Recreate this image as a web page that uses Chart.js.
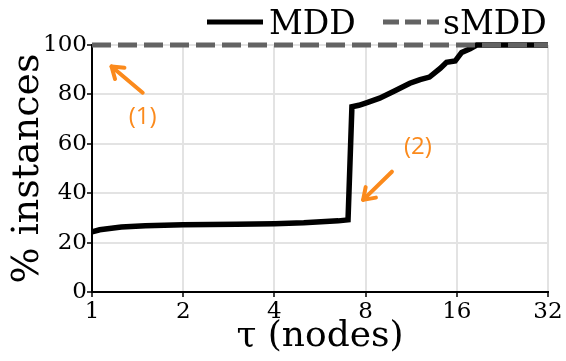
<!DOCTYPE html>
<html>
<head>
<meta charset="utf-8">
<script src="https://cdn.jsdelivr.net/npm/chart.js@4.4.1/dist/chart.umd.min.js"></script>
<style>
  html, body { margin: 0; padding: 0; background: #fff; }
</style>
</head>
<body>
<canvas id="cdfChart" width="566" height="361"></canvas>
<script>
// series names and axis ticks
const seriesNames = ['MDD', 'sMDD'];
const xTicks = [1, 2, 4, 8, 16, 32];
const yTicks = [0, 20, 40, 60, 80, 100];

// MDD: % of instances solved for a given tau
const mddX = [1, 1.06, 1.25, 1.5, 2, 3, 4, 5, 6.5, 7.0, 7.21, 7.6, 8, 8.9, 10, 11.2, 12.1, 13, 14.1, 14.8, 15.8, 16.6, 17.7, 18.6, 32];
const mddY = [24.3, 25.2, 26.3, 26.8, 27.2, 27.4, 27.6, 28, 28.8, 29.2, 75, 75.6, 76.5, 78.5, 81.5, 84.5, 86, 87, 90.5, 93, 93.5, 97, 98.5, 100, 100];

// sMDD: all instances from the start
const smddX = [1, 32];
const smddY = [100, 100];

const orange = '#fb8a1c';
const serif = '"DejaVu Serif", serif';

const toPoints = (xs, ys) => xs.map((x, i) => ({ x: x, y: ys[i] }));

// small numbered arrows, in data coordinates
const notes = [
  { label: '(1)', from: [1.47, 80.7], to: [1.16, 91.3], at: [1.47, 70.6] },
  { label: '(2)', from: [9.77, 48.7], to: [7.85, 37.3], at: [11.9, 58.8] }
];

const notesPlugin = {
  id: 'notes',
  afterDatasetsDraw(chart) {
    const { ctx, scales } = chart;
    ctx.save();
    ctx.strokeStyle = orange;
    ctx.fillStyle = orange;
    ctx.lineWidth = 4;
    ctx.lineCap = 'round';
    ctx.lineJoin = 'round';
    notes.forEach(n => {
      const x0 = scales.x.getPixelForValue(n.from[0]);
      const y0 = scales.y.getPixelForValue(n.from[1]);
      const x1 = scales.x.getPixelForValue(n.to[0]);
      const y1 = scales.y.getPixelForValue(n.to[1]);
      const ang = Math.atan2(y1 - y0, x1 - x0);
      ctx.beginPath();
      ctx.moveTo(x0, y0);
      ctx.lineTo(x1, y1);
      ctx.stroke();
      ctx.beginPath();
      ctx.moveTo(x1 - 13 * Math.cos(ang - 0.6), y1 - 13 * Math.sin(ang - 0.6));
      ctx.lineTo(x1, y1);
      ctx.lineTo(x1 - 13 * Math.cos(ang + 0.6), y1 - 13 * Math.sin(ang + 0.6));
      ctx.stroke();
      ctx.font = '24px "Open Sans", sans-serif';
      ctx.textAlign = 'center';
      ctx.textBaseline = 'middle';
      ctx.fillText(n.label, scales.x.getPixelForValue(n.at[0]), scales.y.getPixelForValue(n.at[1]));
    });
    ctx.restore();
  }
};

// legend above the plot, drawn by hand so it can sit next to the "100" label
const legendPlugin = {
  id: 'topLegend',
  afterDraw(chart) {
    const ctx = chart.ctx;
    const sets = chart.data.datasets;
    const items = [
      { lineX: 207, textX: 269 },
      { lineX: 383, textX: 443 }
    ];
    ctx.save();
    ctx.font = '33px ' + serif;
    ctx.textBaseline = 'alphabetic';
    ctx.fillStyle = '#000';
    items.forEach((it, i) => {
      const ds = sets[i];
      ctx.strokeStyle = ds.borderColor;
      ctx.lineWidth = 5;
      ctx.setLineDash(ds.borderDash ? [16, 6] : []);
      ctx.beginPath();
      ctx.moveTo(it.lineX, 22);
      ctx.lineTo(it.lineX + 56, 22);
      ctx.stroke();
      ctx.fillText(ds.label, it.textX, 34);
    });
    ctx.restore();
  }
};

const ctx = document.getElementById('cdfChart').getContext('2d');

new Chart(ctx, {
  type: 'line',
  data: {
    datasets: [
      {
        label: seriesNames[0],
        data: toPoints(mddX, mddY),
        borderColor: '#000000',
        borderWidth: 5.5,
        pointRadius: 0,
        tension: 0,
        clip: false,
        order: 1
      },
      {
        label: seriesNames[1],
        data: toPoints(smddX, smddY),
        borderColor: '#636363',
        borderWidth: 5,
        borderDash: [19, 7],
        pointRadius: 0,
        tension: 0,
        clip: false,
        order: 0
      }
    ]
  },
  options: {
    responsive: false,
    animation: false,
    events: [],
    layout: { padding: { top: 45, right: 18, left: 0, bottom: 0 } },
    plugins: {
      legend: { display: false },
      tooltip: { enabled: false }
    },
    scales: {
      x: {
        type: 'logarithmic',
        min: 1,
        max: 32,
        afterBuildTicks: scale => { scale.ticks = xTicks.map(v => ({ value: v })); },
        afterFit: scale => { scale.height = 69; },
        ticks: {
          autoSkip: false,
          maxRotation: 0,
          padding: 1,
          color: '#000',
          font: { family: serif, size: 23 },
          callback: v => xTicks.includes(v) ? String(v) : ''
        },
        grid: { color: '#e3e3e3', lineWidth: 2, tickLength: 5, tickColor: '#000', tickWidth: 1.5 },
        border: { color: '#000', width: 2 },
        title: {
          display: true,
          text: 'τ (nodes)',
          color: '#000',
          font: { family: serif, size: 36, lineHeight: 1 },
          padding: { top: 0, bottom: 6 }
        }
      },
      y: {
        min: 0,
        max: 100,
        afterFit: scale => { scale.width = 92; },
        ticks: {
          stepSize: 10,
          padding: 0,
          color: '#000',
          font: { family: serif, size: 23 },
          callback: v => yTicks.includes(v) ? String(v) : ''
        },
        grid: {
          color: '#e3e3e3',
          lineWidth: 2,
          tickLength: 5,
          tickWidth: 1.5,
          tickColor: c => (c.tick && yTicks.includes(c.tick.value)) ? '#000' : 'rgba(0,0,0,0)'
        },
        border: { color: '#000', width: 2 },
        title: {
          display: true,
          text: '% instances',
          color: '#000',
          font: { family: serif, size: 38, lineHeight: 1 },
          padding: { top: 9, bottom: 0 }
        }
      }
    }
  },
  plugins: [notesPlugin, legendPlugin]
});
</script>
</body>
</html>
